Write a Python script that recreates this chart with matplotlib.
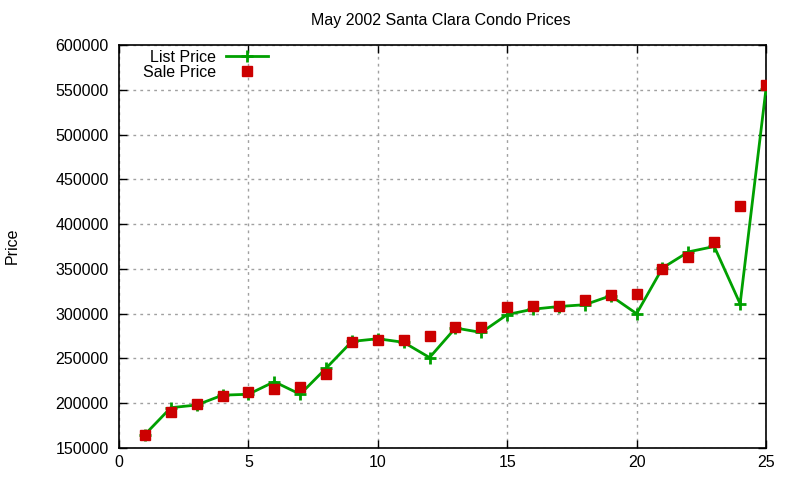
import matplotlib
matplotlib.use("Agg")
import matplotlib.pyplot as plt
from matplotlib.ticker import MultipleLocator

units = list(range(1, 26))
list_price = [165000, 195000, 198000, 209000, 210000, 224000, 210000, 239000, 269000, 272000,
              268000, 251000, 284000, 279000, 299000, 305000, 308000, 310000, 320000, 300000,
              351000, 369000, 375000, 311000, 551000]
sale_price = [164500, 190500, 199000, 208500, 213000, 216000, 218000, 232500, 268000, 270500,
              270500, 275000, 285000, 285000, 308000, 309000, 309000, 315000, 320500, 322000,
              350000, 363000, 380000, 420000, 555500]
title = "May 2002 Santa Clara Condo Prices"

plt.rcParams['font.family'] = ['Liberation Sans', 'DejaVu Sans']
fig = plt.figure(figsize=(8, 4.8), dpi=100)
W, H = 800, 480
ax = fig.add_axes([119 / W, 1 - 448 / H, (766 - 119) / W, (448 - 45) / H])

ax.plot(units, list_price, color='#00a000', lw=2, marker='+', ms=9, mew=2, label='List Price', zorder=3)
ax.plot(units, sale_price, ls='none', marker='s', ms=7.5, color='#cc0000', label='Sale Price', zorder=4)

ax.set_xlim(0, 25)
ax.set_ylim(150000, 600000)
ax.xaxis.set_major_locator(MultipleLocator(5))
ax.yaxis.set_major_locator(MultipleLocator(50000))
ax.ticklabel_format(style='plain', axis='y', useOffset=False)
ax.grid(True, color='#a0a0a0', ls=(0, (2, 3)), lw=1)
ax.set_axisbelow(True)
ax.tick_params(direction='in', length=6, width=1, top=True, right=True, labelsize=11.5)
ax.tick_params(axis='x', pad=5)
ax.tick_params(axis='y', pad=7.5)
for s in ax.spines.values():
    s.set_linewidth(1.2)

fig.text(441 / W, 1 - 20 / H, title, ha='center', va='center', fontsize=11.5)
fig.text(12 / W, 1 - 246 / H, 'Price', ha='center', va='center', rotation=90, fontsize=11.5)

leg = ax.legend(loc='upper left', bbox_to_anchor=(0.0277, 1.004), frameon=False, markerfirst=False,
                fontsize=11.5, handlelength=2.6, handletextpad=0.6, labelspacing=0.0, borderaxespad=0)
for t in leg.get_texts():
    t.set_ha('right')

fig.savefig('out.png', dpi=100)
